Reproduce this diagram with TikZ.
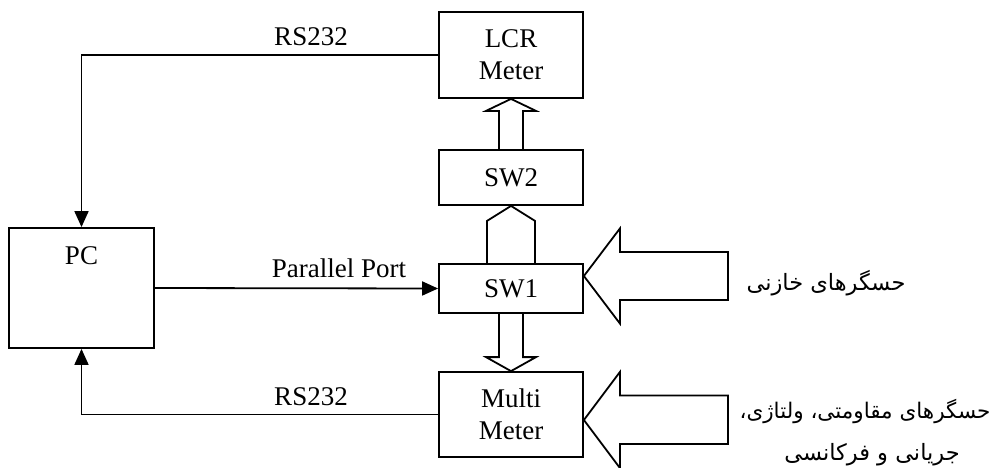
\documentclass[tikz,border=0pt]{standalone}
\usepackage{fontspec}
\setmainfont{Liberation Serif}
\newfontfamily\arabicfont[Script=Arabic]{DejaVu Sans}
\TeXXeTstate=1
\usetikzlibrary{arrows.meta,calc}
\begin{document}
\begin{tikzpicture}[x=1pt,y=-1pt,
  box/.style={draw,line width=1.8pt,inner sep=0pt,align=center,font=\fontsize{27}{32}\selectfont},
  lbl/.style={inner sep=0pt,font=\fontsize{27}{31}\selectfont},
  plbl/.style={inner sep=0pt,font=\arabicfont\fontsize{22.5}{26}\selectfont},
  conn/.style={line width=1.8pt,-{Triangle[length=16pt,width=14pt]}},
  hollow/.style={draw,line width=1.8pt,line join=miter,fill=white}]
\useasboundingbox (0,0) rectangle (998,467);
\node[box,minimum width=145,minimum height=120] (pc) at (81.5,288) {};
\node[lbl] (pctext) at (81.5,256) {PC};
\node[box,minimum width=144,minimum height=86] (lcr) at (511,55) {LCR\\Meter};
\node[box,minimum width=144,minimum height=55] (sw2) at (511,177.5) {SW2};
\node[box,minimum width=144,minimum height=49] (sw1) at (511,288.5) {SW1};
\node[box,minimum width=144,minimum height=85] (mm) at (511,414.5) {Multi\\Meter};
% connectors
\draw[conn] (lcr.west) -| (pc.north);
\draw[conn] (mm.west) -| (pc.south);
\draw[conn] (pc.east) -- (sw1.west);
\node[lbl] (rs1) at (311,37) {RS232};
\node[lbl] (rs2) at (311,397) {RS232};
\node[lbl] (pp) at (339,268) {Parallel Port};
% hollow arrows
\draw[line width=1.8pt,line join=miter]
  ($(sw2.north)+(-12,0)$) -- ($(lcr.south)+(-12,12)$) -- ($(lcr.south)+(-25,12)$)
  -- (lcr.south) -- ($(lcr.south)+(25,12)$) -- ($(lcr.south)+(12,12)$) -- ($(sw2.north)+(12,0)$);
\draw[line width=1.8pt,line join=miter]
  ($(sw1.north)+(-24,0)$) -- ($(sw2.south)+(-24,15)$) -- (sw2.south)
  -- ($(sw2.south)+(24,15)$) -- ($(sw1.north)+(24,0)$);
\draw[line width=1.8pt,line join=miter]
  ($(sw1.south)+(-12,0)$) -- ($(mm.north)+(-12,-14)$) -- ($(mm.north)+(-25,-14)$)
  -- (mm.north) -- ($(mm.north)+(25,-14)$) -- ($(mm.north)+(12,-14)$) -- ($(sw1.south)+(12,0)$);
\coordinate (t1) at ($(sw1.east)+(0,-12.5)$);
\draw[hollow] (t1) -- ++(36,-47.5) -- ++(0,23.5) -- ++(108,0) -- ++(0,48)
  -- ++(-108,0) -- ++(0,23.5) -- cycle;
\coordinate (t2) at ($(mm.east)+(0,5.5)$);
\draw[hollow] (t2) -- ++(36,-48) -- ++(0,23.5) -- ++(108,0) -- ++(0,48.5)
  -- ++(-108,0) -- ++(0,24) -- cycle;
\node[plbl] (s1) at (826,283) {\beginR حسگرهای خازنی\endR};
\node[plbl,font=\arabicfont\fontsize{21.5}{26}\selectfont] (s2) at (865,411) {\beginR حسگرهای مقاومتی، ولتاژی،\endR};
\node[plbl] (s3) at (872,455) {\beginR جریانی و فرکانسی\endR};
\end{tikzpicture}
\end{document}
